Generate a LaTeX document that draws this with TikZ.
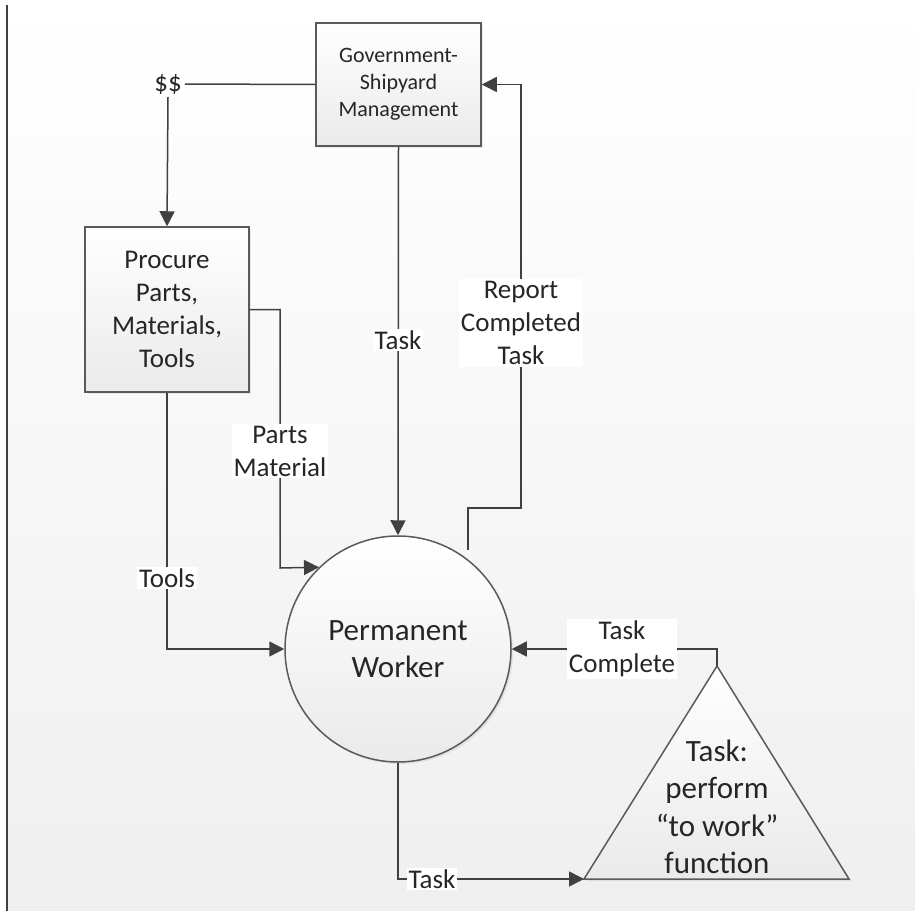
\documentclass[tikz,border=0pt]{standalone}
\usepackage{fontspec}
\setmainfont{Carlito}
\usetikzlibrary{arrows.meta,shadows}
\definecolor{linec}{HTML}{404040}
\definecolor{txtc}{HTML}{262626}
\definecolor{bgbot}{HTML}{EFEFEF}
\definecolor{shapebot}{HTML}{EAEAEA}
\definecolor{borderc}{HTML}{5A5A5A}
\begin{document}
\begin{tikzpicture}[x=1bp,y=-1bp,
  conn/.style={draw=linec, line width=1.5bp},
  arr/.style={-{Triangle[length=15bp,width=15bp]}},
  lbl/.style={fill=white, text=txtc, inner sep=2bp, align=center, font=\fontsize{27bp}{33bp}\selectfont},
  shp/.style={draw=borderc, line width=1.5bp, top color=white, bottom color=shapebot, text=txtc, align=center, inner sep=0pt,
    drop shadow={opacity=0.15, shadow xshift=2bp, shadow yshift=-2bp}},
]
\useasboundingbox (0,0) rectangle (915,911);
\fill[top color=white, bottom color=bgbot] (8,0) rectangle (915,911);
\draw[draw=linec, line width=2bp] (7,5) -- (7,911);

% shapes
\node[shp, minimum width=165bp, minimum height=123bp, font=\fontsize{22bp}{27bp}\selectfont] (gov) at (398.5,84.5) {Government-\\Shipyard\\Management};
\node[shp, minimum width=164bp, minimum height=165bp, font=\fontsize{27bp}{33bp}\selectfont] (proc) at (167,309.5) {Procure\\Parts,\\Materials,\\Tools};
\node[shp, circle, minimum size=226bp, font=\fontsize{31bp}{37bp}\selectfont] (pw) at (398,649) {Permanent\\Worker};

\coordinate (apex) at (717,666);
\coordinate (bl) at (584,879);
\coordinate (br) at (849,879);
\path[draw=borderc, line width=1.5bp, top color=white, bottom color=shapebot,
  drop shadow={opacity=0.15, shadow xshift=2bp, shadow yshift=-2bp}] (apex) -- (br) -- (bl) -- cycle;
\node[text=txtc, align=center, font=\fontsize{31bp}{37.5bp}\selectfont] (tasktxt) at (717,807) {Task:\\perform\\“to work”\\function};

\node[lbl, inner sep=3bp] (dollar) at (168,84) {\$\$};

% connectors
\draw[conn] (gov.west) -- (dollar.east);
\draw[conn,arr] (dollar.south) -- (proc.north);
\draw[conn,arr] (gov.south) -- (pw.north);
\coordinate (rstart) at (468,550);
\draw[conn,arr] (rstart) |- (521,508) |- (gov.east);
\draw[conn,arr] (proc.east) -| (280,568) -- (pw.134.2);
\draw[conn,arr] (proc.south) |- (pw.west);
\draw[conn,arr] (apex) |- (pw.east);
\draw[conn,arr] (pw.south) |- (bl);

% labels
\node[lbl] (ltask1) at (398,340) {Task};
\node[lbl] (lrep) at (521,323) {Report\\Completed\\Task};
\node[lbl] (lparts) at (280,451) {Parts\\Material};
\node[lbl] (ltools) at (167,578) {Tools};
\node[lbl] (ltc) at (622,649) {Task\\Complete};
\node[lbl] (ltask2) at (432,879) {Task};
\end{tikzpicture}
\end{document}
